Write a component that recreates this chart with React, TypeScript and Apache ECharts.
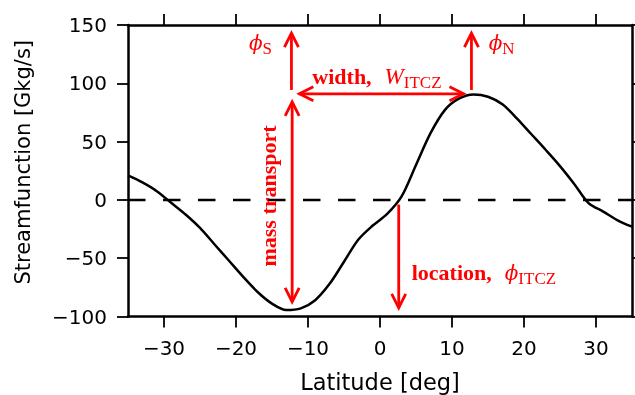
import React, { useEffect, useRef } from 'react';
import * as echarts from 'echarts';

// ---- data ----
const latitude = [-35, -33, -31, -29, -27, -25, -23, -21, -19, -17, -15, -13, -11, -9, -7, -5, -3, -1, 1, 3, 5, 7, 9, 11, 13, 15, 17, 19, 21, 23, 25, 27, 29, 31, 33, 35];
const streamfunction = [21, 15, 7.5, -2.5, -12.5, -24, -38, -52, -66, -79, -89, -94.5, -93, -86, -72, -53, -34, -22, -12, 3, 30, 57, 77, 87, 90.5, 88.5, 82, 70, 56.5, 43, 29, 13.5, -3, -10, -17.5, -23];
const xTicks = [-30, -20, -10, 0, 10, 20, 30];
const yTicks = [-100, -50, 0, 50, 100, 150];
const xRange = [-35, 35];
const yRange = [-100, 150];

// annotation arrows (data coords)
const arrowFrom = [[-12.3, 94.3], [-11.2, 91], [12.7, 94.3], [-12.2, 84], [2.6, -4]];
const arrowTo = [[-12.3, 143], [11.6, 91], [12.7, 143], [-12.2, -87.5], [2.6, -92.6]];
const arrowDouble = [false, true, false, true, false];

// annotation label anchors (data coords)
const labelPhiS = [-15.0, 134.6];
const labelPhiN = [15.1, 134.6];
const labelWidth = [-9.4, 105.5];
const labelMass = [-15.5, 3.4];
const labelLocation = [4.4, -62.6];

const RED = '#ff0000';
const SERIF = 'Liberation Serif';
const GREEK = 'DejaVu Serif';
const SANS = 'DejaVu Sans';

const minus = (v: number) => String(v).replace('-', '\u2212');

const richStyles = {
  b: { fontFamily: SERIF, fontWeight: 'bold', fontSize: 22, fill: RED, lineHeight: 28, verticalAlign: 'middle' },
  p: { fontFamily: GREEK, fontStyle: 'italic', fontSize: 20, fill: RED, lineHeight: 28, verticalAlign: 'middle' },
  w: { fontFamily: SERIF, fontStyle: 'italic', fontSize: 23, fill: RED, lineHeight: 28, verticalAlign: 'middle' },
  s: { fontFamily: SERIF, fontSize: 17, fill: RED, lineHeight: 16, verticalAlign: 'bottom' },
  g: { fontSize: 10, width: 13, lineHeight: 28 },
};

export default function App() {
  const ref = useRef<HTMLDivElement>(null);
  useEffect(() => {
    const chart = echarts.init(ref.current!, null, { renderer: 'svg' });
    const axisLine = { show: true, onZero: false, lineStyle: { color: '#000', width: 2.5 } };
    const tick = (vals: number[]) => ({ show: true, inside: false, length: 11, customValues: vals, lineStyle: { color: '#000', width: 1.8 } });
    chart.setOption({
      animation: false,
      grid: { left: 128, right: 3, top: 25, bottom: 78.5, outerBoundsMode: 'none', containLabel: false },
      xAxis: [
        {
          type: 'value', min: xRange[0], max: xRange[1], position: 'bottom',
          axisLine, axisTick: tick(xTicks), splitLine: { show: false },
          axisLabel: { customValues: xTicks, formatter: minus, color: '#000', fontFamily: SANS, fontSize: 20, margin: 21 },
          name: 'Latitude [deg]', nameLocation: 'middle', nameGap: 54,
          nameTextStyle: { color: '#000', fontFamily: SANS, fontSize: 22.5 },
        },
        {
          type: 'value', min: xRange[0], max: xRange[1], position: 'top',
          axisLine, axisTick: tick(xTicks), splitLine: { show: false }, axisLabel: { show: false },
        },
      ],
      yAxis: [
        {
          type: 'value', min: yRange[0], max: yRange[1], interval: 50, position: 'left',
          axisLine, axisTick: tick(yTicks), splitLine: { show: false },
          axisLabel: { customValues: yTicks, formatter: minus, color: '#000', fontFamily: SANS, fontSize: 20, margin: 21 },
          name: 'Streamfunction [Gkg/s]', nameLocation: 'middle', nameGap: 95,
          nameTextStyle: { color: '#000', fontFamily: SANS, fontSize: 21, padding: [0, 0, 0, 17] },
        },
        {
          type: 'value', min: yRange[0], max: yRange[1], interval: 50, position: 'right',
          axisLine, axisTick: tick(yTicks), splitLine: { show: false }, axisLabel: { show: false },
        },
      ],
      series: [
        {
          type: 'line', data: [[xRange[0], 0], [xRange[1], 0]], symbol: 'none',
          lineStyle: { color: '#000', width: 2.5, type: [17.5, 17.5] }, silent: true, z: 1,
        },
        {
          type: 'line', data: latitude.map((x, i) => [x, streamfunction[i]]), symbol: 'none',
          smooth: 0.3, lineStyle: { color: '#000', width: 2.5 }, z: 2,
        },
      ],
    });

    const px = (p: number[]) => chart.convertToPixel({ seriesIndex: 1 }, p) as number[];
    const elements: any[] = [];
    const head = (tip: number[], from: number[]) => {
      const dx = tip[0] - from[0], dy = tip[1] - from[1];
      const len = Math.hypot(dx, dy);
      const ux = dx / len, uy = dy / len;
      const nx = -uy, ny = ux;
      const L = 14, W = 7;
      return {
        type: 'polyline',
        shape: { points: [[tip[0] - ux * L + nx * W, tip[1] - uy * L + ny * W], tip, [tip[0] - ux * L - nx * W, tip[1] - uy * L - ny * W]] },
        style: { stroke: RED, lineWidth: 2.8, fill: 'none' },
        z: 10,
      };
    };
    arrowFrom.forEach((f, i) => {
      const a = px(f), b = px(arrowTo[i]);
      elements.push({ type: 'line', shape: { x1: a[0], y1: a[1], x2: b[0], y2: b[1] }, style: { stroke: RED, lineWidth: 2.8 }, z: 10 });
      elements.push(head(b, a));
      if (arrowDouble[i]) elements.push(head(a, b));
    });
    const addText = (anchor: number[], text: string, align: string, rotation = 0) => {
      const p = px(anchor);
      elements.push({
        type: 'text', x: p[0], y: p[1], rotation, z: 11,
        style: { text, align, verticalAlign: 'middle', fill: RED, rich: richStyles },
      });
    };
    addText(labelPhiS, '{p|\u03d5}{s|S}', 'right');
    addText(labelPhiN, '{p|\u03d5}{s|N}', 'left');
    addText(labelWidth, '{b|width,}{g| }{w|W}{s|ITCZ}', 'left');
    addText(labelLocation, '{b|location,}{g| }{p|\u03d5}{s|ITCZ}', 'left');
    addText(labelMass, '{b|mass transport}', 'center', Math.PI / 2);
    chart.setOption({ graphic: elements });
    return () => chart.dispose();
  }, []);
  return <div ref={ref} style={{ position: 'fixed', left: 0, top: 0, width: 635, height: 395 }} />;
}
